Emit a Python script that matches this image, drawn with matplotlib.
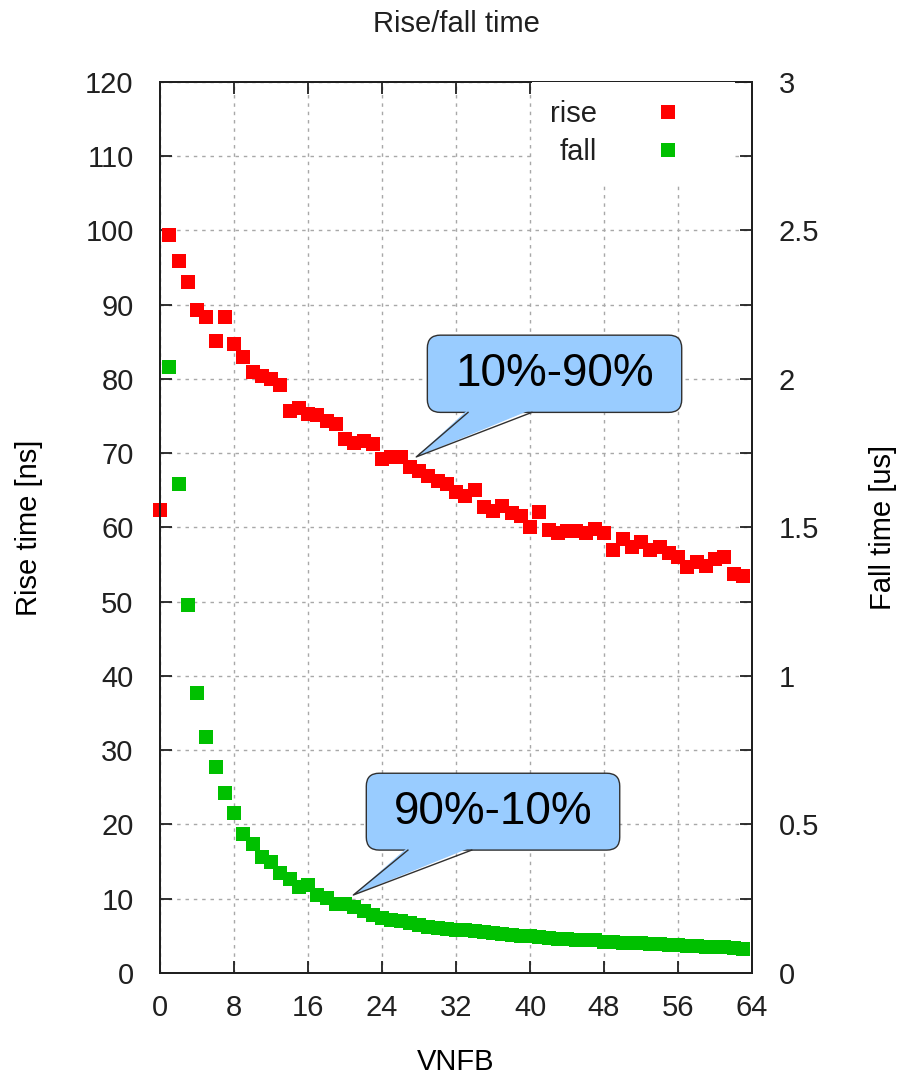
import matplotlib.pyplot as plt
from matplotlib.patches import FancyBboxPatch, Polygon
import numpy as np

plt.rcParams['font.family'] = ['Liberation Sans', 'DejaVu Sans']
plt.rcParams['text.color'] = '#202020'
plt.rcParams['xtick.color'] = '#202020'
plt.rcParams['ytick.color'] = '#202020'

# data
vnfb_rise = np.arange(0, 64)
rise_ns = [62.3, 99.4, 95.9, 93.1, 89.3, 88.3, 85.1, 88.3, 84.7, 83.0,
           80.9, 80.4, 80.0, 79.2, 75.7, 76.1, 75.3, 75.1, 74.4, 73.9,
           71.9, 71.4, 71.7, 71.2, 69.2, 69.5, 69.5, 68.1, 67.6, 66.9,
           66.3, 65.8, 64.8, 64.3, 65.1, 62.8, 62.2, 62.9, 61.9, 61.5,
           60.1, 62.1, 59.7, 59.2, 59.5, 59.5, 59.3, 59.8, 59.3, 56.9,
           58.5, 57.4, 58.0, 56.9, 57.4, 56.6, 56.0, 54.7, 55.4, 54.8,
           55.8, 56.0, 53.8, 53.4]

vnfb_fall = np.arange(1, 64)
fall_us = [2.04, 1.645, 1.24, 0.943, 0.793, 0.692, 0.605, 0.54, 0.467,
           0.433, 0.389, 0.375, 0.335, 0.318, 0.29, 0.296, 0.262, 0.253,
           0.232, 0.232, 0.221, 0.21, 0.195, 0.184, 0.178, 0.175, 0.167,
           0.162, 0.155, 0.15, 0.148, 0.145, 0.144, 0.142, 0.137, 0.133,
           0.13, 0.128, 0.125, 0.124, 0.12, 0.118, 0.116, 0.115, 0.112,
           0.11, 0.11, 0.105, 0.103, 0.102, 0.101, 0.1, 0.098, 0.097,
           0.095, 0.094, 0.09, 0.09, 0.088, 0.087, 0.087, 0.083, 0.082]

x_ticks = [0, 8, 16, 24, 32, 40, 48, 56, 64]
left_ticks = list(range(0, 121, 10))
right_ticks = [0, 0.5, 1, 1.5, 2, 2.5, 3]
right_labels = ['0', '0.5', '1', '1.5', '2', '2.5', '3']

# callouts: text, box (x0, x1, y0, y1), wedge base (x0, x1), tip (x, y)
callouts = [('10%-90%', (28.9, 56.4, 75.5, 85.9), (33.3, 40.2), (27.7, 69.5)),
            ('90%-10%', (22.3, 49.7, 16.55, 26.9), (26.8, 33.7), (20.9, 10.5))]

# Make figure
fig = plt.figure(figsize=(8.99, 10.8), dpi=100)
ax = fig.add_axes([0.178, 0.0991, 0.6585, 0.825])
ax2 = ax.twinx()

# axis ranges and ticks
ax.set_xlim(0, 64)
ax.set_ylim(0, 120)
ax2.set_ylim(0, 3)
ax.set_xticks(x_ticks)
ax.set_yticks(left_ticks)
ax2.set_yticks(right_ticks)
ax2.set_yticklabels(right_labels)
ax2.set_yticks(np.arange(0, 3.01, 0.25), minor=True)

ax.tick_params(direction='in', length=8.6, width=1.3, labelsize=21,
               top=True, right=False)
ax.tick_params(axis='x', pad=15)
ax.tick_params(axis='y', pad=19)
ax2.tick_params(axis='y', which='both', direction='in', length=8.6,
                width=1.3, labelsize=21, pad=19)
for a in (ax, ax2):
    for s in a.spines.values():
        s.set_linewidth(1.4)
        s.set_color('#202020')

# grid
ax.grid(True, color='#a8a8a8', linestyle=(0, (2.5, 3.5)), linewidth=1.0)
ax.set_axisbelow(True)

# Plot data
l1, = ax.plot(vnfb_rise, rise_ns, 's', color='#ff0000', ms=9.4, mew=0,
              clip_on=False, label='rise')
l2, = ax2.plot(vnfb_fall, fall_us, 's', color='#00c000', ms=9.4, mew=0,
               clip_on=False, label='fall')

# legend, text on the left of the marker
leg = ax2.legend([l1, l2], ['rise', 'fall'], loc='upper right',
                 bbox_to_anchor=(0.971, 1.0), markerfirst=False, frameon=True,
                 fancybox=False, edgecolor='none', facecolor='white',
                 framealpha=1, fontsize=21, handletextpad=0.74,
                 borderaxespad=0, borderpad=0.62, labelspacing=0.35,
                 handlelength=3.35, numpoints=1)

# speech bubble callouts
for txt, (bx0, bx1, by0, by1), (wx0, wx1), tip in callouts:
    box = FancyBboxPatch((bx0, by0), bx1 - bx0, by1 - by0,
                         boxstyle='round,pad=0,rounding_size=1.4',
                         mutation_aspect=1.24, fc='#99ccff', ec='#303030',
                         lw=1, zorder=5)
    ax2.add_patch(box)
    box.set_transform(ax.transData)
    wedge = Polygon([(wx0, by0 + 0.4), (wx1, by0 + 0.4), tip], closed=True,
                    fc='#99ccff', ec='none', zorder=6)
    ax2.add_patch(wedge)
    wedge.set_transform(ax.transData)
    ax2.plot([wx0, tip[0], wx1], [by0, tip[1], by0], color='#303030', lw=1,
             zorder=6, transform=ax.transData)
    ax2.text((bx0 + bx1) / 2, (by0 + by1) / 2, txt, fontsize=33,
             color='black', ha='center', va='center', zorder=7,
             transform=ax.transData)

# label axes
ax.set_title('Rise/fall time', fontsize=21, pad=36)
ax.set_xlabel('VNFB', fontsize=21, labelpad=19)
ax.set_ylabel('Rise time [ns]', fontsize=21, labelpad=30)
ax2.set_ylabel('Fall time [us]', fontsize=21, labelpad=36)

plt.savefig('out.png', dpi=100)
